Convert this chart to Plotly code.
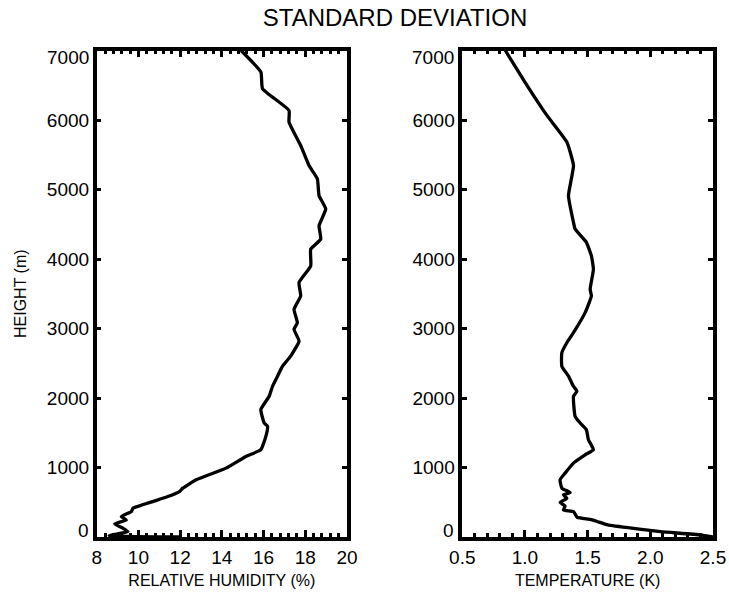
import plotly.graph_objects as go

# ---------------- data ----------------
height_rh = [0, 20, 77, 126, 188, 245, 293, 365, 414, 510, 582, 654, 703, 823, 991,
             1159, 1256, 1448, 1592, 1641, 1833, 2025, 2169, 2314, 2458, 2602, 2819,
             2988, 3084, 3276, 3468, 3661, 3901, 4142, 4286, 4478, 4719, 4911, 5152,
             5344, 5633, 5970, 6138, 6451, 6692, 7000]
rh = [12.0, 8.6, 9.5, 9.26, 8.86, 9.42, 9.18, 9.66, 9.74, 10.69, 11.41, 11.97, 12.13,
      12.77, 14.20, 15.15, 15.87, 16.11, 16.19, 16.03, 15.87, 16.27, 16.43, 16.67,
      16.91, 17.30, 17.70, 17.46, 17.62, 17.46, 17.78, 17.70, 18.26, 18.26, 18.74,
      18.66, 18.98, 18.66, 18.58, 18.18, 17.78, 17.22, 17.22, 15.95, 15.87, 14.92]

height_t = [0, 30, 77, 120, 173, 220, 250, 280, 300, 365, 390, 447, 495, 558, 606, 640,
            703, 823, 919, 1063, 1183, 1256, 1400, 1544, 1641, 1736, 2025, 2097, 2169,
            2314, 2458, 2651, 2795, 2940, 3228, 3468, 3565, 3853, 4045, 4239, 4431,
            4527, 4911, 5344, 5682, 6066, 6499, 7000]
temp = [2.50, 2.40, 2.08, 1.88, 1.66, 1.58, 1.53, 1.42, 1.41, 1.387, 1.307, 1.32, 1.28,
        1.334, 1.307, 1.36, 1.294, 1.28, 1.32, 1.387, 1.48, 1.546, 1.506, 1.49, 1.44,
        1.40, 1.387, 1.414, 1.387, 1.347, 1.294, 1.294, 1.334, 1.387, 1.48, 1.53,
        1.52, 1.546, 1.53, 1.49, 1.40, 1.387, 1.347, 1.387, 1.334, 1.175, 1.016, 0.843]

rh_ticks = [8, 10, 12, 14, 16, 18, 20]
t_ticks = [0.5, 1.0, 1.5, 2.0, 2.5]
t_ticklabels = ["0.5", "1.0", "1.5", "2.0", "2.5"]
y_ticks = [0, 1000, 2000, 3000, 4000, 5000, 6000, 7000]

title_text = "STANDARD DEVIATION"
rh_title = "RELATIVE HUMIDITY (%)"
t_title = "TEMPERATURE (K)"
y_title = "HEIGHT (m)"

# ---------------- layout constants ----------------
W, H = 729, 592
FONT = "Liberation Sans, Arial, Helvetica, sans-serif"
x1_dom = [96.7 / W, 347.0 / W]
x2_dom = [462.3 / W, 713.0 / W]
y_dom = [1 - 537.0 / H, 1 - 50.5 / H]

fig = go.Figure()
fig.add_trace(go.Scatter(x=rh, y=height_rh, mode="lines",
                         line=dict(color="black", width=3.3, shape="spline", smoothing=0.4),
                         xaxis="x", yaxis="y", showlegend=False))
fig.add_trace(go.Scatter(x=temp, y=height_t, mode="lines",
                         line=dict(color="black", width=3.3, shape="spline", smoothing=0.4),
                         xaxis="x2", yaxis="y2", showlegend=False))

axis_common = dict(showline=True, linecolor="black", linewidth=3.5, mirror="allticks",
                   ticks="inside", tickcolor="black", showgrid=False, zeroline=False,
                   tickfont=dict(family=FONT, size=19, color="black"),
                   automargin=False, fixedrange=True)

y_ticktext = ["" if v in (y_ticks[0], y_ticks[-1]) else str(v) for v in y_ticks]

fig.update_layout(
    width=W, height=H,
    margin=dict(l=0, r=0, t=0, b=0, autoexpand=False),
    paper_bgcolor="white", plot_bgcolor="white",
    showlegend=False,
    title=dict(text=title_text, x=395 / W, xanchor="center", y=1 - 18 / H,
               yanchor="middle", yref="container", automargin=False,
               font=dict(family=FONT, size=24, color="black")),
    xaxis=dict(axis_common, domain=x1_dom, anchor="y", range=[rh_ticks[0], rh_ticks[-1]],
               tickvals=rh_ticks, ticklen=7, tickwidth=2.5,
               minor=dict(dtick=0.4, ticks="inside", ticklen=4, tickwidth=2.5,
                          tickcolor="black", showgrid=False),
               title=dict(text=rh_title, font=dict(family=FONT, size=16, color="black"),
                          standoff=9)),
    yaxis=dict(axis_common, domain=y_dom, anchor="x", range=[y_ticks[0], y_ticks[-1]],
               tickvals=y_ticks, ticktext=y_ticktext, ticklen=5, tickwidth=2.5,
               title=dict(text=y_title, font=dict(family=FONT, size=16, color="black"),
                          standoff=17)),
    xaxis2=dict(axis_common, domain=x2_dom, anchor="y2", range=[t_ticks[0], t_ticks[-1]],
                tickvals=t_ticks, ticktext=t_ticklabels, ticklen=7, tickwidth=2.5,
                minor=dict(dtick=0.1, ticks="inside", ticklen=4, tickwidth=2.5,
                           tickcolor="black", showgrid=False),
                title=dict(text=t_title, font=dict(family=FONT, size=16, color="black"),
                           standoff=9)),
    yaxis2=dict(axis_common, domain=y_dom, anchor="x2", range=[y_ticks[0], y_ticks[-1]],
                tickvals=y_ticks, ticktext=y_ticktext, ticklen=5, tickwidth=2.5),
)

# end labels of the height axes sit slightly inside the frame
annots = []
for dom in (x1_dom, x2_dom):
    for v, shift in ((y_ticks[0], 7), (y_ticks[-1], -7)):
        annots.append(dict(text=str(v), x=dom[0], xref="paper", y=v, yref="y",
                           xanchor="right", yanchor="middle", xshift=-6, yshift=shift,
                           showarrow=False,
                           font=dict(family=FONT, size=19, color="black")))
fig.update_layout(annotations=annots)

fig.write_html("out.html")
